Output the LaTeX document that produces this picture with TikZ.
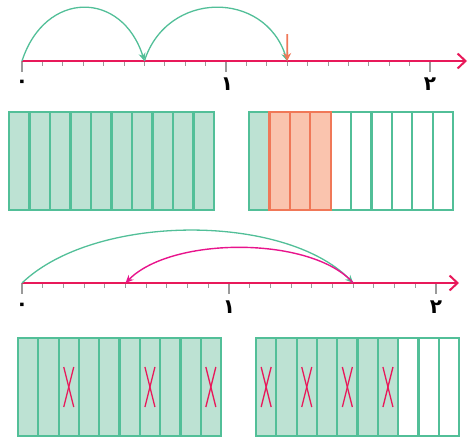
\documentclass[tikz,border=0pt]{standalone}
\usepackage{fontspec}
\TeXXeTstate=1
\newfontfamily\arabicfont[Script=Arabic]{DejaVu Sans}
\usetikzlibrary{arrows.meta,calc}
\definecolor{gstroke}{HTML}{52BF98}
\definecolor{gfill}{HTML}{BDE2D3}
\definecolor{ostroke}{HTML}{F07858}
\definecolor{ofill}{HTML}{FAC4AE}
\definecolor{nline}{HTML}{E8195A}
\definecolor{parc}{HTML}{E8148C}
\definecolor{tickc}{HTML}{9A9A9A}
\tikzset{
  numline/.style={nline, line width=2.2pt, -{Straight Barb[length=8pt,width=15pt,line width=2pt]}},
  minortick/.style={tickc, line width=1pt},
  majortick/.style={tickc, line width=1.4pt},
  garc/.style={gstroke, line width=1.3pt, -{Stealth[length=8pt,width=7pt]}},
  parrow/.style={parc, line width=1.4pt, -{Stealth[length=8pt,width=7pt]}},
  oarrow/.style={ostroke, line width=1.6pt, -{Stealth[length=8pt,width=8pt]}},
  gcell/.style={draw=gstroke, fill=gfill, line width=2.2pt},
  wcell/.style={draw=gstroke, fill=white, line width=2.2pt},
  ocell/.style={draw=ostroke, fill=ofill, line width=2.2pt},
  xmark/.style={nline, line width=1.3pt},
  numlabel/.style={font=\arabicfont\bfseries\fontsize{20}{20}\selectfont, inner sep=0pt}
}
\begin{document}
\begin{tikzpicture}[x=1pt,y=-1pt]
\useasboundingbox (0,0) rectangle (468,437);
% ---------- top number line ----------
\foreach \i in {0,...,20} {
  \coordinate (t\i) at (22+\i*20.4, 61);
}
\coordinate (tend) at (467,61);
\foreach \i in {1,...,9,11,12,...,19} {
  \draw[minortick] (t\i) -- ++(0,5);
}
\foreach \i in {0,10,20} {
  \draw[majortick] (t\i) -- ++(0,11);
}
\draw[numline] (t0) -- (tend);
\node[numlabel] (tl0) at (22,84) {\beginR ۰\endR};
\node[numlabel] (tl1) at (227,84) {\beginR ۱\endR};
\node[numlabel] (tl2) at (430,84) {\beginR ۲\endR};
\draw[garc] (t0) .. controls (45,-10) and (122,-10) .. (t6);
\draw[garc] (t6) .. controls (167,-10) and (265,-10) .. (t13);
\coordinate (otop) at (287.2,34);
\draw[oarrow] (otop) -- (t13);
% ---------- top bars ----------
\foreach \i in {0,...,9} {
  \draw[gcell] (9+\i*20.5,112) rectangle (9+\i*20.5+20.5,210);
}
\draw[gcell] (249,112) rectangle (269.4,210);
\foreach \i in {4,...,9} {
  \draw[wcell] (249+\i*20.4,112) rectangle (249+\i*20.4+20.4,210);
}
\foreach \i in {1,2,3} {
  \draw[ocell] (249+\i*20.4,112) rectangle (249+\i*20.4+20.4,210);
}
% ---------- bottom number line ----------
\foreach \i in {0,...,20} {
  \coordinate (b\i) at (22+\i*20.7, 283);
}
\coordinate (bend) at (459,283);
\foreach \i in {1,...,9,11,12,...,19} {
  \draw[minortick] (b\i) -- ++(0,5);
}
\foreach \i in {0,10,20} {
  \draw[majortick] (b\i) -- ++(0,11);
}
\draw[numline] (b0) -- (bend);
\node[numlabel] (bl0) at (22,307) {\beginR ۰\endR};
\node[numlabel] (bl1) at (229,307) {\beginR ۱\endR};
\node[numlabel] (bl2) at (436,307) {\beginR ۲\endR};
\draw[garc] (b0) .. controls (95,213) and (285,213) .. (b16);
\draw[parrow] (b16) .. controls (312,236) and (172,236) .. (b5);
% ---------- bottom bars ----------
\foreach \i in {0,...,9} {
  \draw[gcell] (18+\i*20.3,338) rectangle (18+\i*20.3+20.3,436);
}
\foreach \i in {0,...,6} {
  \draw[gcell] (256+\i*20.3,338) rectangle (256+\i*20.3+20.3,436);
}
\foreach \i in {7,8,9} {
  \draw[wcell] (256+\i*20.3,338) rectangle (256+\i*20.3+20.3,436);
}
\foreach \c in {2,6,9} {
  \coordinate (lx\c) at (18+\c*20.3+10.15,387);
  \draw[xmark] ($(lx\c)+(-5,-20)$) -- ($(lx\c)+(5,20)$);
  \draw[xmark] ($(lx\c)+(5,-20)$) -- ($(lx\c)+(-5,20)$);
}
\foreach \c in {0,2,4,6} {
  \coordinate (rx\c) at (256+\c*20.3+10.15,387);
  \draw[xmark] ($(rx\c)+(-5,-20)$) -- ($(rx\c)+(5,20)$);
  \draw[xmark] ($(rx\c)+(5,-20)$) -- ($(rx\c)+(-5,20)$);
}
\end{tikzpicture}
\end{document}
